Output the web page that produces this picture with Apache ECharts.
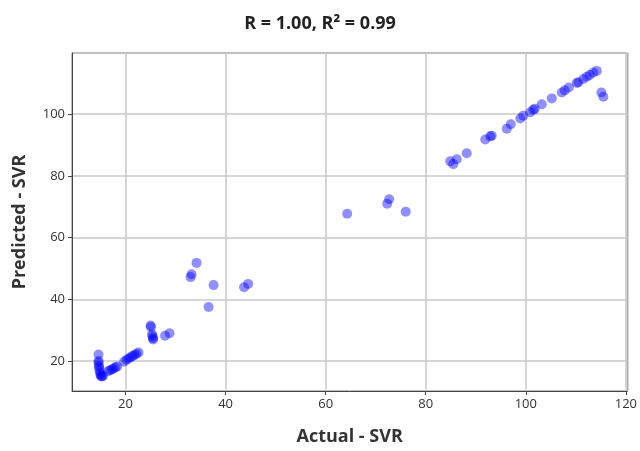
<!DOCTYPE html>
<html>
<head>
<meta charset="utf-8">
<script src="https://cdn.jsdelivr.net/npm/echarts@6/dist/echarts.min.js"></script>
<style>
  html, body { margin: 0; padding: 0; background: #fff; }
  #chart { width: 640px; height: 451px; }
</style>
</head>
<body>
<div id="chart"></div>
<script>
const actual = [
  14.6, 14.6, 14.6, 14.7, 14.7, 14.8, 14.9, 15.0, 15.1, 15.3, 15.5,
  16.5, 16.9, 17.3, 17.6, 18.0, 18.3, 19.7, 20.2, 20.6, 21.0, 21.4, 21.8, 22.2, 22.6,
  25.0, 25.1, 25.3, 25.4, 25.5, 25.5, 27.9, 28.8,
  33.0, 33.2, 34.2, 37.6, 36.6, 43.7, 44.5,
  64.3, 72.3, 72.7, 76.0,
  84.9, 85.5, 86.2, 88.2, 91.9, 92.9, 93.2, 96.2, 97.0, 98.9, 99.5, 100.9, 101.5, 101.8,
  103.2, 105.2, 107.2, 107.8, 108.6, 110.2, 110.5, 111.5, 112.2, 112.8, 113.5, 114.2,
  115.1, 115.5
];
const predicted = [
  22.1, 20.0, 19.5, 18.5, 18.0, 17.0, 16.2, 15.5, 15.1, 15.0, 15.2,
  16.7, 17.0, 17.3, 17.6, 18.0, 18.2, 19.8, 20.4, 20.8, 21.2, 21.6, 22.0, 22.4, 22.8,
  31.5, 31.0, 28.7, 28.0, 27.4, 27.0, 28.2, 29.0,
  47.2, 48.1, 51.8, 44.6, 37.5, 43.9, 45.0,
  67.7, 71.0, 72.4, 68.4,
  84.7, 83.8, 85.4, 87.3, 91.8, 92.8, 93.0, 95.3, 96.7, 98.6, 99.5, 100.6, 101.4, 101.7,
  103.2, 105.1, 107.0, 107.7, 108.6, 110.1, 110.3, 111.4, 112.1, 112.7, 113.5, 114.0,
  107.0, 105.6
];

const points = actual.map((x, i) => [x, predicted[i]]);

const chart = echarts.init(document.getElementById('chart'));

const axisFont = { color: '#333', fontSize: 13, fontFamily: 'Open Sans' };
const nameFont = { color: '#333', fontSize: 18, fontWeight: 'bold', fontFamily: 'Open Sans' };

chart.setOption({
  backgroundColor: '#fff',
  animation: false,
  title: {
    text: 'R = 1.00, R² = 0.99',
    left: 'center',
    top: 10,
    textStyle: { color: '#222', fontSize: 18, fontWeight: 'bold', fontFamily: 'Open Sans' }
  },
  grid: {
    left: 72,
    right: 8,
    top: 53,
    bottom: 51,
    show: true,
    borderColor: '#444',
    borderWidth: 1
  },
  xAxis: {
    type: 'value',
    min: 9.3,
    max: 120.3,
    splitNumber: 5,
    name: 'Actual - SVR',
    nameLocation: 'middle',
    nameGap: 37,
    nameTextStyle: nameFont,
    axisLine: { show: true, lineStyle: { color: '#444' } },
    axisTick: { show: true, length: 4, lineStyle: { color: '#444' } },
    axisLabel: Object.assign({ showMinLabel: false, showMaxLabel: false, margin: 7 }, axisFont),
    splitLine: { show: true, lineStyle: { color: '#c8c8c8', width: 1.5 } }
  },
  yAxis: {
    type: 'value',
    min: 10.3,
    max: 119.8,
    splitNumber: 5,
    name: 'Predicted - SVR',
    nameLocation: 'middle',
    nameGap: 43,
    nameTextStyle: nameFont,
    axisLine: { show: true, lineStyle: { color: '#444' } },
    axisTick: { show: true, length: 4, lineStyle: { color: '#444' } },
    axisLabel: Object.assign({ showMinLabel: false, showMaxLabel: false, margin: 7 }, axisFont),
    splitLine: { show: true, lineStyle: { color: '#c8c8c8', width: 1.5 } }
  },
  series: [
    {
      type: 'scatter',
      data: points,
      symbolSize: 10,
      itemStyle: { color: 'rgba(0, 0, 255, 0.55)' }
    }
  ]
});
</script>
</body>
</html>
